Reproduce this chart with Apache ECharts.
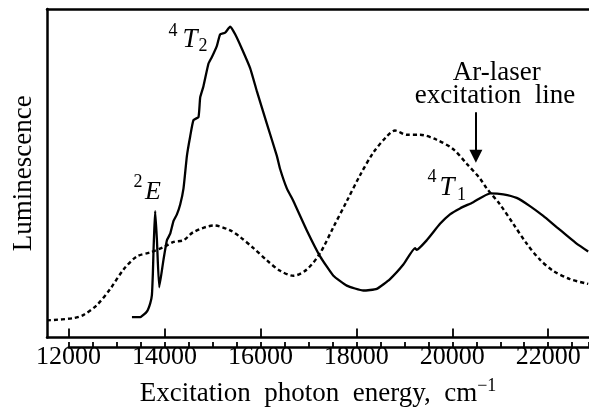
<!DOCTYPE html>
<html>
<head>
<meta charset="utf-8">
<style>
    html, body { margin: 0; padding: 0; background: #fff; }
    #chart { width: 589px; height: 412px; }
</style>
<script src="https://cdn.jsdelivr.net/npm/echarts@6/dist/echarts.min.js"></script>
</head>
<body>
<div id="chart"></div>
<script>
// excitation spectrum, solid curve (photon energy cm-1 / luminescence, arb. units)
const solidX = [13321, 13494, 13633, 13702, 13737, 13758, 13771, 13785, 13806, 13842, 13890, 13979, 14050, 14119, 14188, 14258, 14327, 14396, 14467, 14535, 14604, 14708, 14744, 14812, 14917, 14988, 15092, 15160, 15265, 15369, 15473, 15613, 15785, 15925, 16133, 16342, 16410, 16550, 16688, 16967, 17244, 17521, 17800, 18146, 18425, 18702, 18979, 19223, 19258, 19467, 19744, 19952, 20160, 20438, 20788, 21063, 21342, 21619, 21896, 22175, 22383, 22592, 22833];
const solidY = [6.2, 6.2, 7.9, 10.4, 12.9, 19.8, 26.7, 32.1, 38.5, 29.6, 15.3, 23.7, 29.6, 31.6, 35.5, 37.5, 40.5, 45.4, 55.3, 61.2, 66.2, 67.1, 73.1, 76.5, 83.4, 85.4, 88.8, 92.3, 92.8, 94.6, 92.3, 87.9, 82.0, 75.0, 65.1, 55.3, 51.3, 45.4, 41.5, 32.6, 24.7, 18.8, 15.8, 14.3, 14.8, 17.8, 22.2, 27.2, 26.7, 29.6, 34.6, 37.5, 39.3, 41.2, 43.9, 43.6, 42.5, 40.0, 37.0, 33.6, 31.1, 28.6, 26.2];
// dotted curve
const dottedX = [11550, 12104, 12313, 12592, 12869, 13146, 13425, 13702, 13979, 14188, 14396, 14604, 15035, 15369, 15577, 15854, 16133, 16410, 16688, 16967, 17244, 17521, 17800, 18077, 18354, 18633, 18806, 19050, 19327, 19675, 20021, 20300, 20577, 20717, 20994, 21271, 21550, 21827, 22104, 22452, 22833];
const dottedY = [5.2, 5.9, 6.9, 9.9, 14.8, 20.7, 24.7, 25.9, 27.5, 29.1, 29.6, 32.1, 34.1, 32.6, 30.6, 27.2, 23.5, 20.3, 18.8, 20.7, 25.7, 33.6, 41.5, 49.4, 56.3, 61.2, 63.0, 61.7, 61.7, 60.2, 57.3, 52.9, 48.4, 45.4, 40.5, 34.6, 28.6, 23.7, 20.3, 17.8, 16.3];
// x axis ticks
const majorTicks = [12000, 14000, 16000, 18000, 20000, 22000];
const minorStep = 500;
// Ar-laser line (488 nm)
const laserLine = 20492;

const serif = 'Liberation Serif';
const xMin = 11550, xMax = 22850;
const zip = (xs, ys) => xs.map((x, i) => [x, ys[i]]);

let chart = echarts.init(document.getElementById('chart'));

// 公共的轴线样式
const axisLine = { lineStyle: { color: '#000', width: 2.5 } };
const plotRect = { left: 47, top: 9, right: 0, bottom: 65 };
// 次刻度用的grid：从12000开始，像素比例与主grid相同
const pxPerUnit = (589 - plotRect.left) / (xMax - xMin);
const minorRect = { left: plotRect.left + (majorTicks[0] - xMin) * pxPerUnit, top: 9, right: 0, bottom: 65 };
const hidden = { axisLine: { show: false }, axisTick: { show: false }, axisLabel: { show: false }, splitLine: { show: false } };

let option = {
    animation: false,
    grid: [plotRect, minorRect],
    xAxis: [
        {
            gridIndex: 0, type: 'value', min: xMin, max: xMax, position: 'bottom',
            axisLine: axisLine,
            axisTick: { inside: true, length: 9, customValues: majorTicks, lineStyle: { color: '#000', width: 1.8 } },
            axisLabel: {
                customValues: majorTicks, margin: 7, color: '#000', fontFamily: serif, fontSize: 26,
                formatter: v => String(v)
            },
            splitLine: { show: false },
            name: 'Excitation  photon  energy,  cm{sup|−1}',
            nameLocation: 'middle',
            nameGap: 40,
            nameTextStyle: {
                color: '#000', fontFamily: serif, fontSize: 27,
                rich: { sup: { fontFamily: serif, fontSize: 18, color: '#000', padding: [0, 0, 14, 0] } }
            }
        },
        {
            // 顶部边框
            gridIndex: 0, type: 'value', min: xMin, max: xMax, position: 'top',
            axisLine: axisLine,
            axisTick: { show: false },
            axisLabel: { show: false },
            splitLine: { show: false }
        },
        {
            // 次刻度（轴线要显示，不然刻度画不出来；与主轴线重合）
            gridIndex: 1, type: 'value', min: majorTicks[0], max: xMax, interval: minorStep, position: 'bottom',
            axisLine: axisLine,
            axisTick: { show: true, inside: true, length: 5, lineStyle: { color: '#000', width: 1.8 } },
            axisLabel: { show: false },
            splitLine: { show: false }
        }
    ],
    yAxis: [
        {
            gridIndex: 0, type: 'value', min: 0, max: 100,
            axisLine: axisLine,
            axisTick: { show: false },
            axisLabel: { show: false },
            splitLine: { show: false },
            name: 'Luminescence',
            nameLocation: 'middle',
            nameGap: 10,
            nameTextStyle: { color: '#000', fontFamily: serif, fontSize: 27 }
        },
        Object.assign({ gridIndex: 1, type: 'value', min: 0, max: 100 }, hidden)
    ],
    series: [
        {
            name: 'solid', type: 'line', xAxisIndex: 0, yAxisIndex: 0, showSymbol: false, smooth: 0.15,
            lineStyle: { color: '#000', width: 2.3 },
            data: zip(solidX, solidY)
        },
        {
            name: 'dotted', type: 'line', xAxisIndex: 0, yAxisIndex: 0, showSymbol: false, smooth: 0.3,
            lineStyle: { color: '#000', width: 2.4, type: [4, 3] },
            data: zip(dottedX, dottedY),
            markLine: {
                silent: true,
                symbol: ['none', 'triangle'],
                symbolSize: [13, 13],
                label: { show: false },
                lineStyle: { color: '#000', width: 2, type: 'solid' },
                data: [[{ coord: [laserLine, 68.6] }, { coord: [laserLine, 55.2] }]]
            }
        }
    ]
};

// 标注文字
function txt(x, y, text, size, italic) {
    return {
        type: 'text', x: x, y: y, silent: true,
        style: {
            text: text, fill: '#000', fontFamily: serif, fontSize: size,
            fontStyle: italic ? 'italic' : 'normal', align: 'center', verticalAlign: 'middle'
        }
    };
}
option.graphic = [
    txt(173, 31, '4', 18), txt(190, 40, 'T', 27, true), txt(203, 46, '2', 18),
    txt(138, 182.5, '2', 18), txt(153, 192.5, 'E', 26, true),
    txt(432, 177.5, '4', 18), txt(447, 188, 'T', 27, true), txt(461.5, 195, '1', 18),
    txt(496.7, 73, 'Ar-laser', 27), txt(495, 96, 'excitation  line', 27)
];

chart.setOption(option);
</script>
</body>
</html>
